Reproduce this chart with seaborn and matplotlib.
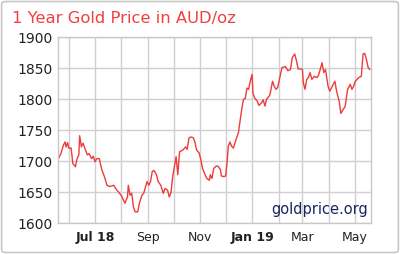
import matplotlib
matplotlib.use("Agg")
import matplotlib.pyplot as plt
import matplotlib.dates as mdates
from matplotlib.patches import FancyBboxPatch
import seaborn as sns
import pandas as pd

# ---- data ----
start_date = "2018-05-19"
day_offset = [0, 3, 6, 8, 9, 11, 12, 15, 17, 20, 22, 24, 25, 27, 29, 31, 34, 36, 39, 41,
              43, 45, 48, 51, 54, 57, 60, 63, 65, 67, 70, 74, 78, 81, 82, 84, 86, 88, 90, 93,
              95, 98, 100, 104, 106, 108, 110, 112, 115, 117, 120, 123, 125, 128, 130, 132,
              134, 137, 138, 140, 142, 146, 149, 151, 153, 155, 158, 160, 162, 165, 167, 169,
              172, 174, 177, 178, 180, 182, 185, 187, 190, 191, 194, 196, 198, 199, 201, 203,
              205, 208, 211, 213, 215, 217, 219, 221, 223, 225, 227, 228, 230, 233, 235, 238,
              240, 242, 244, 247, 248, 251, 253, 255, 257, 259, 262, 266, 269, 272, 274, 277,
              279, 281, 284, 286, 287, 289, 291, 293, 295, 297, 300, 303, 305, 309, 311, 313,
              316, 318, 321, 324, 326, 329, 331, 334, 336, 339, 342, 344, 346, 348, 352, 355,
              357, 359, 361, 363, 365]
price = [1704, 1712, 1726, 1731, 1723, 1730, 1721, 1721, 1696, 1691, 1704, 1710, 1741, 1723,
         1729, 1721, 1710, 1712, 1704, 1708, 1699, 1704, 1704, 1686, 1675, 1661, 1659, 1660,
         1661, 1656, 1651, 1644, 1632, 1642, 1661, 1645, 1648, 1626, 1618, 1618, 1632, 1645,
         1648, 1667, 1661, 1667, 1683, 1685, 1678, 1667, 1661, 1648, 1656, 1653, 1642, 1649,
         1675, 1699, 1707, 1678, 1715, 1718, 1723, 1719, 1737, 1739, 1738, 1731, 1718, 1713,
         1702, 1688, 1678, 1672, 1669, 1678, 1672, 1688, 1692, 1692, 1686, 1676, 1675, 1676,
         1702, 1723, 1731, 1724, 1721, 1734, 1746, 1766, 1785, 1800, 1801, 1818, 1816, 1830,
         1840, 1810, 1802, 1797, 1790, 1794, 1799, 1789, 1800, 1805, 1808, 1829, 1821, 1816,
         1819, 1832, 1851, 1853, 1846, 1848, 1867, 1873, 1862, 1849, 1849, 1848, 1827, 1816,
         1832, 1835, 1843, 1832, 1837, 1835, 1839, 1859, 1843, 1848, 1821, 1813, 1821, 1829,
         1813, 1797, 1777, 1784, 1788, 1816, 1824, 1816, 1821, 1829, 1835, 1837, 1873, 1874,
         1864, 1851, 1848]
end_date = "2019-05-20"
y_ticks = [1600, 1650, 1700, 1750, 1800, 1850, 1900]
x_tick_dates = ["2018-07-01", "2018-09-01", "2018-11-01", "2019-01-01", "2019-03-01", "2019-05-01"]
x_tick_labels = ["Jul 18", "Sep", "Nov", "Jan 19", "Mar", "May"]
x_tick_bold = [True, False, False, True, False, False]
title = "1 Year Gold Price in AUD/oz"
watermark = "goldprice.org"

df = pd.DataFrame({
    "date": pd.Timestamp(start_date) + pd.to_timedelta(day_offset, unit="D"),
    "price": price,
})

sns.set_style("white")
plt.rcParams["font.family"] = ["DejaVu Sans"]

fig = plt.figure(figsize=(4.0, 2.54), dpi=100)
ax = fig.add_axes([0.1458, 0.1220, 0.7810, 0.7311])

sns.lineplot(data=df, x="date", y="price", ax=ax, color="#ee3b3b", linewidth=1.0)

ax.set_xlim(pd.Timestamp(start_date), pd.Timestamp(end_date))
ax.set_ylim(y_ticks[0], y_ticks[-1])
ax.set_yticks(y_ticks)
ax.set_yticklabels([str(v) for v in y_ticks], fontsize=10, color="#222222")

# monthly grid
ax.xaxis.set_minor_locator(mdates.MonthLocator())
ax.set_xticks([pd.Timestamp(d) for d in x_tick_dates])
ax.set_xticklabels(x_tick_labels, fontsize=9, color="#222222")
for lbl, b in zip(ax.get_xticklabels(), x_tick_bold):
    if b:
        lbl.set_fontweight("bold")
ax.grid(True, which="both", axis="x", color="#d0d0d0", linewidth=1.0)
ax.grid(True, which="major", axis="y", color="#d0d0d0", linewidth=1.0)
ax.set_axisbelow(True)
ax.tick_params(axis="both", which="both", length=0, pad=4)
ax.tick_params(axis="x", pad=6)
for s in ax.spines.values():
    s.set_color("#c8c8c8")
    s.set_linewidth(1.0)
ax.set_xlabel("")
ax.set_ylabel("")

ax.text(0.99, 0.035, watermark, transform=ax.transAxes, ha="right", va="bottom",
        fontsize=10.5, color="#1c2463")

fig.text(12 / 400, 1 - 18 / 254, title, ha="left", va="center", fontsize=11.8, color="#f04040")

border = FancyBboxPatch((0.004, 0.006), 0.992, 0.988, boxstyle="round,pad=0,rounding_size=0.01",
                        transform=fig.transFigure, facecolor="none", edgecolor="#c8c8c8",
                        linewidth=1.2)
fig.patches.append(border)

fig.savefig("out.png", dpi=100)
